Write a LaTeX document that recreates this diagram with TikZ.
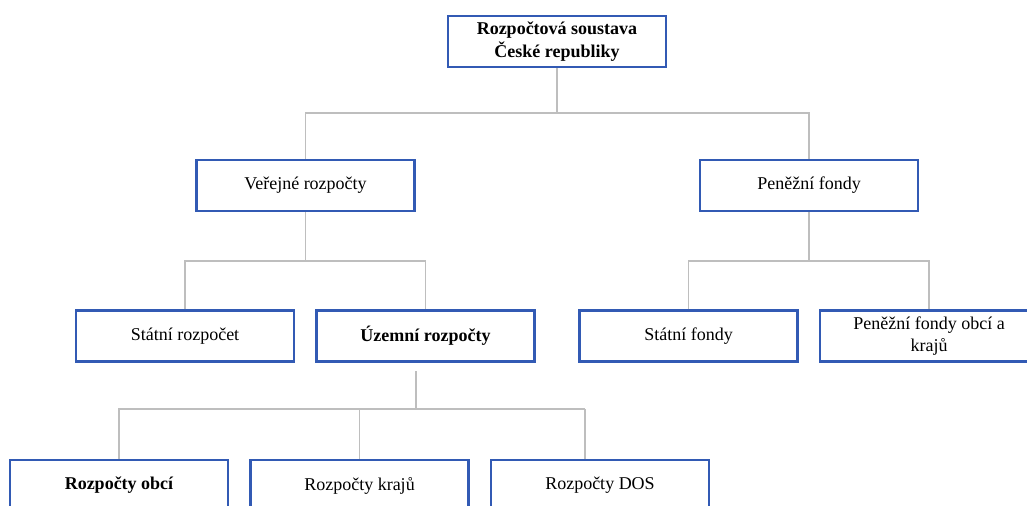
\documentclass[tikz,border=0pt]{standalone}
\usepackage{fontspec}
\setmainfont{Liberation Serif}
\definecolor{boxblue}{RGB}{50,90,180}
\definecolor{linegray}{RGB}{190,190,190}
\begin{document}
\begin{tikzpicture}[x=0.025cm,y=-0.025cm,
	box/.style={draw=boxblue,line width=1.8pt,fill=white,minimum width=5.45cm,minimum height=1.28cm,align=center,inner sep=0pt,font=\fontsize{12.8}{16}\selectfont},
	boldbox/.style={box,font=\fontsize{12.8}{16}\selectfont\bfseries},
	link/.style={draw=linegray,line width=1.3pt}]
	\useasboundingbox (0,0) rectangle (1027,506);
	\clip (0,0) rectangle (1027,506);
	\node[boldbox] (rs) at (557,41.5) {Rozpočtová soustava\\České republiky};
	\node[box] (vr) at (305.5,185.5) {Veřejné rozpočty};
	\node[box] (pf) at (809,185.5) {Peněžní fondy};
	\node[box] (sr) at (185,336) {Státní rozpočet};
	\node[boldbox] (ur) at (425.5,336) {Územní rozpočty};
	\node[box] (sf) at (688.5,336) {Státní fondy};
	\node[box] (po) at (929,336) {Peněžní fondy obcí a\\krajů};
	\node[boldbox] (ro) at (119,485.5) {Rozpočty obcí};
	\node[box] (rk) at (359.5,485.5) {Rozpočty krajů};
	\node[box] (rd) at (600,485.5) {Rozpočty DOS};
	\coordinate (j1) at (557,113);
	\coordinate (j2) at (305.5,261);
	\coordinate (j3) at (809,261);
	\coordinate (j4a) at (416,371);
	\coordinate (j4) at (416,409);
	\coordinate (j5) at (585,409);
	\draw[link] (rs) -- (j1);
	\draw[link] (vr.north) |- (j1) -| (pf.north);
	\draw[link] (vr) -- (j2);
	\draw[link] (sr.north) |- (j2) -| (ur.north);
	\draw[link] (pf) -- (j3);
	\draw[link] (sf.north) |- (j3) -| (po.north);
	\draw[link] (j4a) -- (j4);
	\draw[link] (ro.north) |- (j5);
	\draw[link] (rk.north) -- (rk.north |- j4);
	\draw[link] (j5) -- (j5 |- rd.north);
\end{tikzpicture}
\end{document}
